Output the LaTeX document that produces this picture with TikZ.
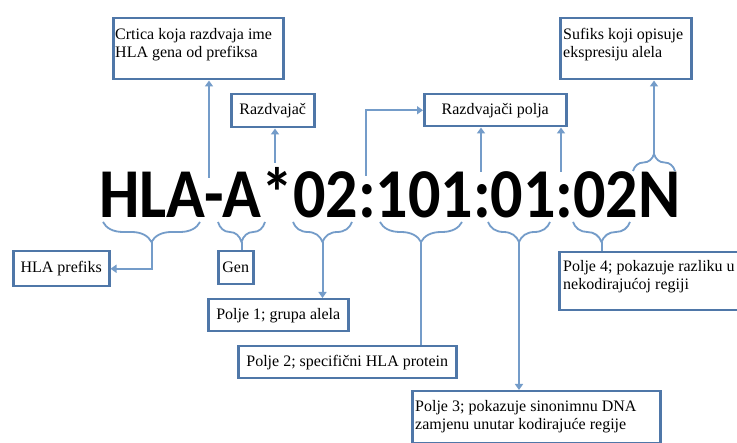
\documentclass[tikz,border=0pt]{standalone}
\usepackage{fontspec}
\newfontfamily\lserif{Liberation Serif}
\newfontfamily\bigfont{Carlito}
\usetikzlibrary{arrows.meta,decorations.pathreplacing}
\definecolor{boxblue}{RGB}{79,119,168}
\definecolor{lineblue}{RGB}{116,156,201}
\begin{document}
\begin{tikzpicture}[x=1pt,y=-1pt,
 lbox/.style={draw=boxblue, line width=2.5pt, fill=white, inner xsep=5pt, inner ysep=0pt,
   font=\lserif\fontsize{16}{18.5}\selectfont, anchor=north west, align=center},
 ltext/.style={font=\lserif\fontsize{16}{18.5}\selectfont, align=left, inner sep=0pt, anchor=base west},
 conn/.style={draw=lineblue, line width=2pt},
 arr/.style={conn, -{Triangle[length=6pt,width=8pt]}},
 brc/.style={draw=lineblue, line width=1.8pt, decorate, decoration={brace, amplitude=20pt}},
]
\useasboundingbox (0,0) rectangle (737,443);
\fill[white] (0,0) rectangle (737,443);

% code
\node[anchor=base west, inner sep=0pt] (code) at (99,218)
  {\scalebox{0.915}[1]{\bigfont\bfseries\fontsize{70}{70}\selectfont HLA-A*02:101:01:02N}};

% boxes with one line
\node[lbox, minimum width=83pt, minimum height=33pt] (razd) at (230,93) {Razdvajač};
\node[lbox, minimum width=142pt, minimum height=32pt] (rpolja) at (423,93) {Razdvajači polja};
\node[lbox, minimum width=96pt, minimum height=35pt] (pref) at (12,250) {HLA prefiks};
\node[lbox, minimum width=35pt, minimum height=33pt, inner xsep=2pt] (gen) at (217,250) {Gen};
\node[lbox, minimum width=140pt, minimum height=32pt] (p1) at (207,298) {Polje 1; grupa alela};
\node[lbox, minimum width=218pt, minimum height=32pt] (p2) at (237,345) {Polje 2; specifični HLA protein};

% boxes with two lines (text set from the top; base = last line)
\node[lbox, minimum width=170pt, minimum height=61pt] (crt) at (112,17) {};
\node[ltext] (crtT) at ([shift={(3,41)}]crt.north west) {Crtica koja razdvaja ime\\HLA gena od prefiksa};
\node[lbox, minimum width=131pt, minimum height=61pt] (suf) at (559,17) {};
\node[ltext] (sufT) at ([shift={(4,41)}]suf.north west) {Sufiks koji opisuje\\ekspresiju alela};
\node[lbox, minimum width=248pt, minimum height=52pt] (p3) at (411,390) {};
\node[ltext] (p3T) at ([shift={(4,40)}]p3.north west) {Polje 3; pokazuje sinonimnu DNA\\zamjenu unutar kodirajuće regije};
\node[lbox, minimum width=184pt, minimum height=58pt] (p4) at (558,251) {};
\node[ltext] (p4T) at ([shift={(5,39)}]p4.north west) {Polje 4; pokazuje razliku u\\nekodirajućoj regiji};

% braces (below the code, tips down)
\draw[brc] (200,222) -- (103,222);
\coordinate (tHLA) at (151.5,242);
\draw[brc] (265,222) -- (218,222);
\coordinate (tA) at (241.5,242);
\draw[brc] (352,222) -- (293,222);
\coordinate (t02) at (322.5,242);
\draw[brc] (462,222) -- (380,222);
\coordinate (t101) at (421,242);
\draw[brc] (550,222) -- (488,222);
\coordinate (t01) at (519,242);
\draw[brc] (630,222) -- (573,222);
\coordinate (t02b) at (601.5,242);
% brace above N, tip up
\draw[brc, decoration={brace, amplitude=17pt}] (633,171) -- (675,171);
\coordinate (tN) at (654,154);

% points on the code
\coordinate (dash) at (209,178);
\coordinate (star) at (275,163);
\coordinate (col1) at (366,176);
\coordinate (col2) at (481,172);
\coordinate (col3) at (561,172);

% connectors
\draw[arr] (dash) -- (dash |- crt.south);
\draw[arr] (star) -- (star |- razd.south);
\draw[arr] (col1) |- (rpolja.west);
\draw[arr] (col2) -- (col2 |- rpolja.south);
\draw[arr] (col3) -- (col3 |- rpolja.south);
\draw[arr] (tN) -- (tN |- suf.south);
\draw[arr] (tHLA) |- (pref.east);
\draw[conn] (tA) -- (tA |- gen.north);
\draw[arr] (t02) -- (t02 |- p1.north);
\draw[conn] (t101) -- (t101 |- p2.north);
\draw[arr] (t01) -- (t01 |- p3.north);
\draw[conn] (t02b) -- (t02b |- p4.north);
\end{tikzpicture}
\end{document}
